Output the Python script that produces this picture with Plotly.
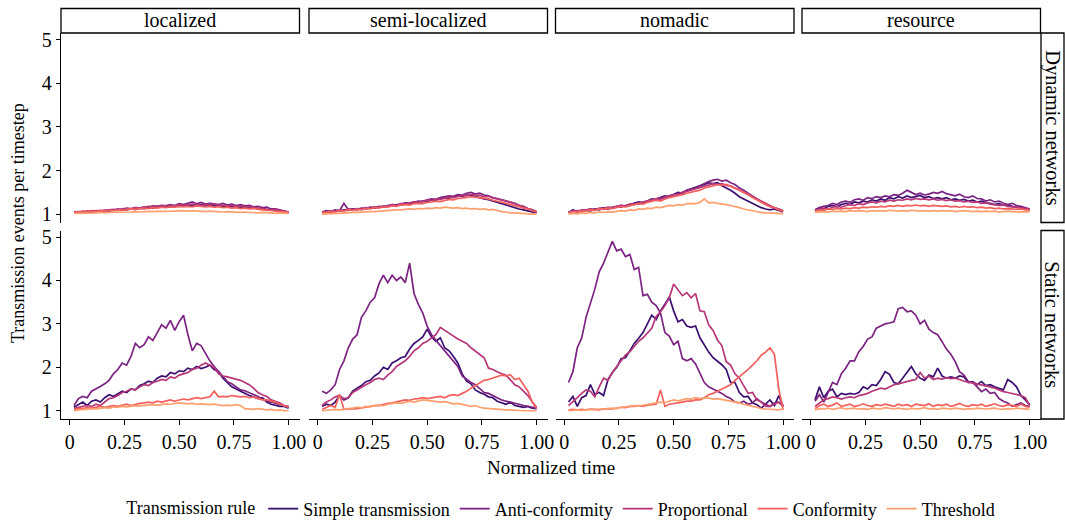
import plotly.graph_objects as go

# ---------------- data ----------------
TIME = [0.02, 0.04, 0.06, 0.08, 0.10, 0.12, 0.14, 0.16, 0.18, 0.20,
        0.22, 0.24, 0.26, 0.28, 0.30, 0.32, 0.34, 0.36, 0.38, 0.40,
        0.42, 0.44, 0.46, 0.48, 0.50, 0.52, 0.54, 0.56, 0.58, 0.60,
        0.62, 0.64, 0.66, 0.68, 0.70, 0.72, 0.74, 0.76, 0.78, 0.80,
        0.82, 0.84, 0.86, 0.88, 0.90, 0.92, 0.94, 0.96, 0.98, 1.00]

PANELS = ["localized", "semi-localized", "nomadic", "resource"]
NETWORKS = ["Dynamic networks", "Static networks"]
RULES = ["Simple transmission", "Anti-conformity", "Proportional", "Conformity", "Threshold"]
X_TICKS = [0, 0.25, 0.5, 0.75, 1.0]
X_TICK_LABELS = ["0", "0.25", "0.50", "0.75", "1.00"]
Y_TICKS = [1, 2, 3, 4, 5]

# ---- Dynamic networks ----
DYN_LOC_SIMPLE = [1.03,1.05,1.04,1.06,1.05,1.07,1.06,1.08,1.07,1.10,
                  1.09,1.11,1.10,1.12,1.11,1.14,1.13,1.15,1.14,1.17,
                  1.16,1.18,1.17,1.19,1.18,1.20,1.19,1.21,1.20,1.22,
                  1.20,1.21,1.19,1.20,1.18,1.19,1.17,1.18,1.15,1.16,
                  1.14,1.15,1.12,1.13,1.10,1.10,1.08,1.07,1.05,1.03]
DYN_LOC_ANTI = [1.05,1.06,1.05,1.07,1.06,1.08,1.07,1.09,1.10,1.09,
                1.12,1.10,1.13,1.12,1.15,1.14,1.17,1.16,1.19,1.18,
                1.20,1.19,1.22,1.20,1.24,1.22,1.25,1.28,1.24,1.27,
                1.23,1.25,1.24,1.22,1.25,1.21,1.23,1.20,1.22,1.19,
                1.20,1.17,1.18,1.15,1.16,1.12,1.12,1.10,1.08,1.05]
DYN_LOC_PROP = [1.06,1.05,1.07,1.06,1.08,1.07,1.09,1.08,1.10,1.11,
                1.10,1.12,1.14,1.13,1.15,1.14,1.16,1.18,1.17,1.19,
                1.18,1.20,1.21,1.19,1.22,1.20,1.21,1.23,1.22,1.20,
                1.22,1.21,1.23,1.20,1.21,1.19,1.20,1.18,1.19,1.16,
                1.17,1.15,1.14,1.13,1.12,1.10,1.11,1.08,1.07,1.05]
DYN_LOC_CONF = [1.04,1.05,1.05,1.06,1.07,1.06,1.08,1.07,1.09,1.08,
                1.10,1.09,1.11,1.12,1.11,1.13,1.14,1.13,1.15,1.14,
                1.16,1.15,1.17,1.16,1.18,1.17,1.18,1.17,1.19,1.18,
                1.17,1.18,1.16,1.17,1.15,1.16,1.14,1.15,1.13,1.14,
                1.12,1.13,1.11,1.10,1.09,1.08,1.08,1.06,1.05,1.04]
DYN_LOC_THRESH = [1.02,1.02,1.03,1.02,1.03,1.03,1.04,1.03,1.04,1.04,
                  1.05,1.04,1.05,1.05,1.06,1.05,1.06,1.06,1.07,1.06,
                  1.07,1.07,1.06,1.07,1.08,1.07,1.07,1.08,1.07,1.07,
                  1.06,1.07,1.06,1.06,1.05,1.06,1.05,1.05,1.04,1.05,
                  1.04,1.04,1.03,1.04,1.03,1.03,1.02,1.03,1.02,1.02]

DYN_SEMI_SIMPLE = [1.03,1.06,1.05,1.08,1.07,1.10,1.09,1.12,1.11,1.13,
                   1.12,1.15,1.14,1.17,1.16,1.19,1.20,1.22,1.21,1.25,
                   1.24,1.27,1.28,1.30,1.29,1.33,1.32,1.36,1.38,1.37,
                   1.40,1.42,1.41,1.44,1.43,1.40,1.38,1.35,1.33,1.30,
                   1.27,1.24,1.20,1.18,1.15,1.12,1.10,1.08,1.05,1.03]
DYN_SEMI_ANTI = [1.05,1.08,1.06,1.10,1.08,1.25,1.10,1.12,1.10,1.14,
                 1.13,1.16,1.15,1.18,1.17,1.20,1.22,1.21,1.24,1.26,
                 1.25,1.28,1.30,1.29,1.33,1.35,1.34,1.38,1.40,1.42,
                 1.41,1.45,1.44,1.48,1.50,1.46,1.48,1.44,1.42,1.38,
                 1.36,1.33,1.30,1.28,1.25,1.20,1.18,1.13,1.10,1.05]
DYN_SEMI_PROP = [1.04,1.05,1.08,1.06,1.10,1.08,1.12,1.10,1.13,1.12,
                 1.15,1.14,1.17,1.16,1.19,1.18,1.22,1.20,1.24,1.23,
                 1.26,1.28,1.27,1.30,1.32,1.31,1.35,1.34,1.37,1.39,
                 1.38,1.41,1.43,1.42,1.45,1.44,1.43,1.40,1.41,1.37,
                 1.35,1.32,1.30,1.27,1.24,1.20,1.17,1.13,1.10,1.06]
DYN_SEMI_CONF = [1.03,1.04,1.06,1.05,1.08,1.07,1.10,1.09,1.11,1.10,
                 1.13,1.12,1.15,1.14,1.17,1.16,1.19,1.18,1.21,1.22,
                 1.21,1.24,1.25,1.24,1.27,1.28,1.30,1.29,1.32,1.34,
                 1.33,1.36,1.37,1.38,1.40,1.39,1.38,1.36,1.35,1.32,
                 1.30,1.28,1.25,1.22,1.20,1.17,1.14,1.12,1.08,1.05]
DYN_SEMI_THRESH = [1.00,1.01,1.01,1.02,1.02,1.03,1.03,1.04,1.04,1.05,
                   1.05,1.06,1.06,1.07,1.08,1.08,1.09,1.10,1.10,1.11,
                   1.12,1.11,1.13,1.12,1.14,1.13,1.15,1.14,1.16,1.15,
                   1.14,1.15,1.13,1.14,1.12,1.13,1.11,1.12,1.10,1.11,
                   1.08,1.06,1.05,1.03,1.03,1.02,1.01,1.01,1.00,1.00]

DYN_NOM_SIMPLE = [1.03,1.10,1.05,1.08,1.10,1.07,1.12,1.10,1.14,1.12,
                  1.15,1.17,1.20,1.18,1.22,1.25,1.28,1.26,1.30,1.35,
                  1.32,1.38,1.42,1.40,1.45,1.50,1.48,1.55,1.58,1.62,
                  1.65,1.68,1.72,1.70,1.72,1.65,1.60,1.55,1.48,1.40,
                  1.35,1.30,1.25,1.20,1.15,1.12,1.10,1.12,1.08,1.05]
DYN_NOM_ANTI = [1.05,1.08,1.06,1.10,1.08,1.12,1.10,1.13,1.15,1.12,
                1.16,1.18,1.16,1.20,1.22,1.25,1.23,1.28,1.30,1.33,
                1.35,1.38,1.36,1.42,1.45,1.48,1.50,1.55,1.58,1.60,
                1.65,1.70,1.75,1.78,1.80,1.76,1.78,1.72,1.68,1.60,
                1.55,1.48,1.42,1.35,1.28,1.22,1.18,1.15,1.12,1.08]
DYN_NOM_PROP = [1.05,1.06,1.08,1.07,1.10,1.12,1.10,1.14,1.13,1.16,
                1.15,1.18,1.20,1.19,1.23,1.22,1.26,1.28,1.30,1.32,
                1.35,1.34,1.40,1.42,1.45,1.44,1.50,1.52,1.55,1.58,
                1.62,1.65,1.68,1.70,1.68,1.70,1.66,1.65,1.60,1.55,
                1.50,1.45,1.40,1.35,1.30,1.25,1.20,1.15,1.12,1.08]
DYN_NOM_CONF = [1.04,1.06,1.05,1.08,1.07,1.10,1.09,1.12,1.11,1.14,
                1.13,1.16,1.18,1.17,1.20,1.22,1.24,1.23,1.27,1.30,
                1.32,1.30,1.35,1.38,1.40,1.42,1.45,1.48,1.50,1.52,
                1.55,1.60,1.62,1.65,1.68,1.66,1.68,1.64,1.60,1.55,
                1.50,1.45,1.38,1.32,1.28,1.22,1.18,1.15,1.10,1.06]
DYN_NOM_THRESH = [1.00,1.02,1.01,1.03,1.02,1.04,1.03,1.05,1.04,1.06,
                  1.05,1.07,1.08,1.07,1.10,1.09,1.12,1.11,1.14,1.13,
                  1.16,1.15,1.18,1.20,1.19,1.22,1.21,1.24,1.25,1.24,
                  1.27,1.35,1.26,1.27,1.25,1.24,1.22,1.20,1.18,1.15,
                  1.12,1.10,1.07,1.05,1.04,1.03,1.03,1.02,1.02,1.01]

DYN_RES_SIMPLE = [1.08,1.15,1.12,1.18,1.20,1.17,1.22,1.25,1.22,1.28,
                  1.26,1.30,1.28,1.33,1.30,1.35,1.32,1.38,1.35,1.40,
                  1.37,1.42,1.38,1.40,1.43,1.38,1.40,1.36,1.38,1.35,
                  1.38,1.33,1.35,1.32,1.34,1.30,1.32,1.28,1.30,1.26,
                  1.25,1.22,1.24,1.20,1.22,1.18,1.16,1.15,1.12,1.10]
DYN_RES_ANTI = [1.10,1.15,1.18,1.20,1.25,1.22,1.28,1.30,1.27,1.33,
                1.35,1.32,1.38,1.36,1.40,1.38,1.42,1.40,1.45,1.43,
                1.48,1.55,1.50,1.45,1.48,1.44,1.46,1.50,1.48,1.52,
                1.47,1.45,1.42,1.46,1.40,1.38,1.42,1.36,1.35,1.30,
                1.33,1.28,1.30,1.25,1.22,1.25,1.20,1.18,1.15,1.12]
DYN_RES_PROP = [1.08,1.10,1.14,1.12,1.16,1.18,1.16,1.20,1.22,1.20,
                1.24,1.22,1.26,1.28,1.26,1.30,1.28,1.32,1.30,1.33,
                1.32,1.35,1.33,1.36,1.34,1.35,1.33,1.35,1.32,1.34,
                1.31,1.33,1.30,1.31,1.28,1.30,1.27,1.28,1.25,1.26,
                1.23,1.22,1.20,1.21,1.18,1.17,1.16,1.14,1.13,1.12]
DYN_RES_CONF = [1.07,1.10,1.09,1.12,1.11,1.13,1.12,1.14,1.13,1.15,
                1.14,1.16,1.15,1.17,1.16,1.18,1.17,1.19,1.18,1.20,
                1.18,1.20,1.19,1.21,1.19,1.20,1.18,1.20,1.19,1.18,
                1.19,1.17,1.18,1.16,1.18,1.16,1.17,1.15,1.16,1.14,
                1.15,1.13,1.14,1.12,1.13,1.12,1.11,1.12,1.10,1.10]
DYN_RES_THRESH = [1.04,1.05,1.06,1.05,1.07,1.06,1.07,1.06,1.08,1.07,
                  1.08,1.07,1.06,1.08,1.07,1.08,1.07,1.09,1.08,1.07,
                  1.08,1.07,1.09,1.08,1.07,1.08,1.07,1.08,1.07,1.08,
                  1.07,1.08,1.06,1.07,1.08,1.07,1.06,1.07,1.06,1.07,
                  1.06,1.07,1.05,1.06,1.07,1.06,1.05,1.06,1.05,1.05]

# ---- Static networks ----
STA_LOC_SIMPLE = [1.08,1.15,1.20,1.12,1.22,1.25,1.20,1.30,1.37,1.33,
                  1.40,1.45,1.42,1.50,1.48,1.58,1.62,1.68,1.65,1.75,
                  1.80,1.78,1.88,1.85,1.92,1.90,1.98,1.95,2.02,1.97,
                  2.00,2.05,1.95,1.90,1.75,1.65,1.55,1.50,1.45,1.40,
                  1.35,1.32,1.28,1.30,1.20,1.15,1.12,1.10,1.10,1.06]
STA_LOC_ANTI = [1.12,1.28,1.33,1.30,1.45,1.50,1.56,1.62,1.70,1.85,
                1.95,2.10,2.05,2.25,2.55,2.45,2.52,2.70,2.62,2.80,
                2.98,2.90,3.08,2.85,3.05,3.20,2.75,2.38,2.55,2.50,
                2.33,2.15,2.02,1.90,1.80,1.67,1.62,1.55,1.48,1.46,
                1.42,1.37,1.33,1.27,1.22,1.20,1.17,1.14,1.12,1.08]
STA_LOC_PROP = [1.05,1.08,1.10,1.12,1.10,1.15,1.12,1.20,1.28,1.30,
                1.35,1.42,1.45,1.50,1.48,1.55,1.60,1.58,1.65,1.68,
                1.72,1.70,1.78,1.75,1.82,1.85,1.88,1.95,1.98,2.05,
                2.10,2.05,2.00,1.85,1.80,1.78,1.75,1.72,1.70,1.65,
                1.60,1.52,1.42,1.37,1.33,1.25,1.22,1.18,1.12,1.10]
STA_LOC_CONF = [1.03,1.05,1.05,1.07,1.06,1.08,1.10,1.08,1.10,1.12,
                1.10,1.13,1.15,1.12,1.15,1.17,1.18,1.20,1.18,1.22,
                1.20,1.22,1.25,1.22,1.25,1.27,1.25,1.28,1.30,1.28,
                1.30,1.32,1.45,1.32,1.33,1.32,1.35,1.33,1.32,1.33,
                1.30,1.32,1.28,1.25,1.25,1.22,1.20,1.15,1.12,1.08]
STA_LOC_THRESH = [1.00,1.02,1.03,1.03,1.05,1.04,1.06,1.07,1.06,1.08,
                  1.08,1.10,1.09,1.10,1.12,1.11,1.12,1.13,1.14,1.13,
                  1.15,1.16,1.15,1.17,1.18,1.17,1.16,1.17,1.15,1.16,
                  1.15,1.14,1.15,1.13,1.12,1.13,1.12,1.14,1.12,1.05,
                  1.04,1.03,1.05,1.03,1.02,1.03,1.01,1.02,1.00,1.00]

STA_SEMI_SIMPLE = [1.10,1.15,1.12,1.20,1.35,1.25,1.30,1.45,1.52,1.58,
                   1.67,1.70,1.80,1.87,2.00,1.95,2.10,2.15,2.22,2.25,
                   2.42,2.55,2.62,2.70,2.88,2.70,2.60,2.68,2.45,2.38,
                   2.25,2.10,1.85,1.68,1.62,1.48,1.42,1.38,1.32,1.30,
                   1.22,1.18,1.15,1.20,1.12,1.10,1.08,1.10,1.06,1.05]
STA_SEMI_ANTI = [1.45,1.40,1.48,1.60,1.95,2.15,2.45,2.65,2.75,3.15,
                 3.30,3.50,3.60,3.92,4.12,3.95,4.12,4.00,4.08,3.95,
                 4.40,3.70,3.45,3.25,2.95,2.75,2.62,2.50,2.38,2.25,
                 2.15,2.02,1.80,1.72,1.65,1.60,1.50,1.42,1.40,1.35,
                 1.30,1.25,1.22,1.20,1.18,1.15,1.12,1.10,1.08,1.06]
STA_SEMI_PROP = [1.12,1.20,1.25,1.32,1.35,1.28,1.30,1.42,1.48,1.55,
                 1.60,1.65,1.72,1.75,1.72,1.82,1.90,2.02,2.08,2.15,
                 2.25,2.38,2.45,2.55,2.60,2.68,2.75,2.92,2.85,2.78,
                 2.70,2.65,2.60,2.55,2.45,2.38,2.30,2.22,1.98,1.95,
                 1.90,1.85,1.82,1.72,1.60,1.55,1.45,1.35,1.20,1.08]
STA_SEMI_CONF = [1.03,1.08,1.12,1.08,1.38,1.03,1.03,1.04,1.05,1.06,
                 1.08,1.10,1.12,1.12,1.15,1.17,1.18,1.20,1.22,1.25,
                 1.24,1.27,1.28,1.30,1.28,1.30,1.32,1.33,1.30,1.35,
                 1.37,1.35,1.40,1.45,1.52,1.58,1.65,1.70,1.72,1.75,
                 1.78,1.82,1.80,1.83,1.72,1.75,1.60,1.45,1.20,1.05]
STA_SEMI_THRESH = [1.00,1.01,1.02,1.03,1.02,1.04,1.05,1.06,1.08,1.07,
                   1.10,1.09,1.12,1.13,1.12,1.15,1.16,1.18,1.17,1.20,
                   1.22,1.20,1.23,1.25,1.24,1.23,1.22,1.20,1.21,1.18,
                   1.16,1.17,1.15,1.12,1.10,1.12,1.08,1.06,1.05,1.05,
                   1.03,1.03,1.02,1.02,1.01,1.00,1.00,1.00,1.00,1.00]

STA_NOM_SIMPLE = [1.20,1.33,1.10,1.30,1.35,1.60,1.38,1.42,1.35,1.72,
                  1.88,2.00,2.20,2.22,2.38,2.55,2.67,2.80,3.00,3.20,
                  3.10,3.30,3.45,3.62,3.30,3.05,3.10,2.95,2.92,2.95,
                  2.68,2.50,2.35,2.22,2.15,2.06,1.95,1.65,1.65,1.42,
                  1.32,1.33,1.18,1.14,1.06,1.15,1.25,1.12,1.35,1.10]
STA_NOM_ANTI = [1.65,1.90,2.45,2.67,3.15,3.45,3.80,4.20,4.40,4.65,
                4.90,4.68,4.72,4.55,4.60,4.25,4.30,3.65,3.68,3.50,
                3.42,3.25,2.80,2.72,2.52,2.60,2.20,2.15,2.20,2.08,
                1.85,1.65,1.55,1.50,1.44,1.40,1.33,1.28,1.20,1.18,
                1.22,1.15,1.18,1.28,1.20,1.15,1.10,1.18,1.20,1.10]
STA_NOM_PROP = [1.12,1.20,1.30,1.40,1.48,1.45,1.32,1.55,1.75,1.70,
                1.88,2.02,2.15,2.28,2.36,2.48,2.60,2.68,2.78,2.90,
                3.17,3.28,3.42,3.60,3.92,3.78,3.65,3.72,3.60,3.70,
                3.30,3.28,2.98,2.85,2.63,2.50,2.13,2.05,1.85,1.75,
                1.58,1.40,1.42,1.25,1.20,1.10,1.10,1.15,1.20,1.10]
STA_NOM_CONF = [1.02,1.03,1.02,1.03,1.02,1.04,1.03,1.02,1.04,1.05,
                1.04,1.06,1.08,1.07,1.10,1.10,1.12,1.10,1.13,1.14,
                1.15,1.48,1.10,1.15,1.16,1.18,1.20,1.22,1.22,1.25,
                1.25,1.30,1.37,1.40,1.45,1.50,1.55,1.60,1.70,1.78,
                1.85,1.95,2.05,2.15,2.28,2.35,2.45,2.30,1.50,1.02]
STA_NOM_THRESH = [1.00,1.01,1.02,1.01,1.02,1.03,1.02,1.04,1.03,1.05,
                  1.06,1.05,1.08,1.09,1.10,1.12,1.11,1.13,1.15,1.17,
                  1.18,1.20,1.19,1.22,1.25,1.23,1.26,1.28,1.27,1.30,
                  1.28,1.30,1.29,1.27,1.28,1.26,1.25,1.22,1.20,1.18,
                  1.15,1.12,1.10,1.08,1.05,1.04,1.03,1.03,1.02,1.05]

STA_RES_SIMPLE = [1.25,1.55,1.30,1.45,1.50,1.32,1.40,1.37,1.40,1.38,
                  1.42,1.55,1.50,1.60,1.58,1.72,1.90,1.84,1.65,1.62,
                  1.75,1.88,2.02,1.85,1.75,1.70,1.82,1.78,1.98,1.80,
                  1.75,1.78,1.75,1.80,1.78,1.65,1.67,1.60,1.67,1.58,
                  1.60,1.55,1.52,1.48,1.72,1.65,1.55,1.35,1.25,1.14]
STA_RES_ANTI = [1.22,1.37,1.20,1.42,1.65,1.60,1.85,1.98,2.15,2.15,
                2.36,2.48,2.65,2.70,2.90,2.95,3.00,3.02,3.05,3.35,
                3.38,3.28,3.30,3.20,3.00,3.08,2.88,2.80,2.75,2.59,
                2.42,2.30,2.13,1.90,1.82,1.67,1.65,1.55,1.44,1.50,
                1.40,1.42,1.28,1.22,1.18,1.10,1.14,1.18,1.12,1.10]
STA_RES_PROP = [1.10,1.18,1.25,1.28,1.32,1.30,1.27,1.30,1.32,1.30,
                1.35,1.37,1.40,1.45,1.48,1.52,1.50,1.55,1.60,1.62,
                1.65,1.68,1.70,1.72,1.88,1.75,1.80,1.72,1.75,1.73,
                1.76,1.74,1.75,1.72,1.68,1.66,1.64,1.62,1.60,1.58,
                1.55,1.52,1.48,1.44,1.42,1.40,1.38,1.35,1.30,1.12]
STA_RES_CONF = [1.05,1.12,1.15,1.10,1.13,1.18,1.10,1.12,1.15,1.10,
                1.12,1.16,1.12,1.10,1.14,1.12,1.15,1.13,1.10,1.15,
                1.12,1.14,1.10,1.15,1.13,1.12,1.16,1.10,1.14,1.12,
                1.15,1.10,1.13,1.17,1.12,1.10,1.14,1.12,1.15,1.10,
                1.13,1.16,1.12,1.10,1.14,1.12,1.10,1.15,1.10,1.08]
STA_RES_THRESH = [1.02,1.05,1.04,1.06,1.03,1.05,1.07,1.04,1.05,1.06,
                  1.04,1.05,1.03,1.06,1.05,1.04,1.07,1.05,1.04,1.06,
                  1.05,1.03,1.06,1.04,1.05,1.07,1.04,1.05,1.03,1.06,
                  1.05,1.04,1.06,1.05,1.03,1.05,1.04,1.06,1.05,1.04,
                  1.05,1.06,1.04,1.03,1.05,1.04,1.06,1.05,1.04,1.03]

SERIES = {
    (0, 0): [DYN_LOC_SIMPLE, DYN_LOC_ANTI, DYN_LOC_PROP, DYN_LOC_CONF, DYN_LOC_THRESH],
    (0, 1): [DYN_SEMI_SIMPLE, DYN_SEMI_ANTI, DYN_SEMI_PROP, DYN_SEMI_CONF, DYN_SEMI_THRESH],
    (0, 2): [DYN_NOM_SIMPLE, DYN_NOM_ANTI, DYN_NOM_PROP, DYN_NOM_CONF, DYN_NOM_THRESH],
    (0, 3): [DYN_RES_SIMPLE, DYN_RES_ANTI, DYN_RES_PROP, DYN_RES_CONF, DYN_RES_THRESH],
    (1, 0): [STA_LOC_SIMPLE, STA_LOC_ANTI, STA_LOC_PROP, STA_LOC_CONF, STA_LOC_THRESH],
    (1, 1): [STA_SEMI_SIMPLE, STA_SEMI_ANTI, STA_SEMI_PROP, STA_SEMI_CONF, STA_SEMI_THRESH],
    (1, 2): [STA_NOM_SIMPLE, STA_NOM_ANTI, STA_NOM_PROP, STA_NOM_CONF, STA_NOM_THRESH],
    (1, 3): [STA_RES_SIMPLE, STA_RES_ANTI, STA_RES_PROP, STA_RES_CONF, STA_RES_THRESH],
}

# ---------------- style / layout ----------------
COLORS = ["#3B0F70", "#7B2382", "#B73779", "#F1605D", "#FE9F6D"]
FONT = "Liberation Serif"
W, H = 1065, 521
COL_PX = [(61, 299.5), (309, 547.5), (555.5, 794), (802, 1040.5)]
ROW_PX = [(33, 222.5), (230.5, 419)]
X_RANGE = [-0.0395, 1.0495]
Y_RANGE = [0.81, 5.15]


def px_x(v):
    return v / W


def px_y(v):
    return 1 - v / H


fig = go.Figure()
layout = dict(
    template="none",
    width=W, height=H,
    margin=dict(l=0, r=0, t=0, b=0, pad=0, autoexpand=False),
    paper_bgcolor="white", plot_bgcolor="white",
    font=dict(family=FONT, color="black", size=18),
    showlegend=True,
)

shapes = []
annotations = []

for r in range(2):
    for c in range(4):
        k = r * 4 + c + 1
        xname = "x" if k == 1 else f"x{k}"
        yname = "y" if k == 1 else f"y{k}"
        xkey = "xaxis" if k == 1 else f"xaxis{k}"
        ykey = "yaxis" if k == 1 else f"yaxis{k}"
        x0, x1 = COL_PX[c]
        y0, y1 = ROW_PX[r]
        xa = dict(domain=[px_x(x0), px_x(x1)], range=X_RANGE, anchor=yname,
                  showgrid=False, zeroline=False, fixedrange=True, automargin=False)
        if r == 1:
            xa.update(showline=True, linecolor="black", linewidth=1.3,
                      ticks="outside", ticklen=5, tickwidth=1.2, tickcolor="black",
                      tickvals=X_TICKS, ticktext=X_TICK_LABELS,
                      tickfont=dict(family=FONT, size=20, color="black"))
        else:
            xa.update(showline=False, showticklabels=False, ticks="")
        ya = dict(domain=[px_y(y1), px_y(y0)], range=Y_RANGE, anchor=xname,
                  showgrid=False, zeroline=False, fixedrange=True, automargin=False)
        if c == 0:
            ya.update(showline=True, linecolor="black", linewidth=1.3,
                      ticks="outside", ticklen=4, tickwidth=1.2, tickcolor="black",
                      tickvals=Y_TICKS,
                      tickfont=dict(family=FONT, size=20, color="black"))
        else:
            ya.update(showline=False, showticklabels=False, ticks="")
        layout[xkey] = xa
        layout[ykey] = ya

        for i, rule in enumerate(RULES):
            fig.add_trace(go.Scatter(
                x=TIME, y=SERIES[(r, c)][i], mode="lines",
                line=dict(color=COLORS[i], width=1.7),
                name=rule, legendgroup=rule,
                showlegend=(k == 1),
                xaxis=xname, yaxis=yname, hoverinfo="skip",
            ))

# top strips
for c, label in enumerate(PANELS):
    x0, x1 = COL_PX[c]
    shapes.append(dict(type="rect", xref="paper", yref="paper",
                       x0=px_x(x0), x1=px_x(x1), y0=px_y(33), y1=px_y(8.5),
                       line=dict(color="black", width=1.3), fillcolor="white"))
    annotations.append(dict(text=label, xref="paper", yref="paper",
                            x=px_x((x0 + x1) / 2), y=px_y(20.5), showarrow=False,
                            xanchor="center", yanchor="middle",
                            font=dict(family=FONT, size=20, color="black")))

# right strips
for r, label in enumerate(NETWORKS):
    y0, y1 = ROW_PX[r]
    shapes.append(dict(type="rect", xref="paper", yref="paper",
                       x0=px_x(1041), x1=px_x(1064), y0=px_y(y1), y1=px_y(y0),
                       line=dict(color="black", width=1.3), fillcolor="white"))
    annotations.append(dict(text=label, xref="paper", yref="paper",
                            x=px_x(1052.5), y=px_y((y0 + y1) / 2), showarrow=False,
                            textangle=90, xanchor="center", yanchor="middle",
                            font=dict(family=FONT, size=20.5, color="black")))

# axis titles
annotations.append(dict(text="Normalized time", xref="paper", yref="paper",
                        x=px_x(550.5), y=px_y(467), showarrow=False,
                        xanchor="center", yanchor="middle",
                        font=dict(family=FONT, size=19, color="black")))
annotations.append(dict(text="Transmission events per timestep", xref="paper", yref="paper",
                        x=px_x(18), y=px_y(223), showarrow=False, textangle=-90,
                        xanchor="center", yanchor="middle",
                        font=dict(family=FONT, size=18, color="black")))

layout["shapes"] = shapes
layout["annotations"] = annotations
layout["legend"] = dict(
    orientation="h", x=0.528, xanchor="center", y=px_y(509), yanchor="middle",
    title=dict(text="Transmission rule", font=dict(family=FONT, size=18, color="black")),
    font=dict(family=FONT, size=18, color="black"),
    itemwidth=30, tracegroupgap=0, bgcolor="rgba(0,0,0,0)",
)

fig.update_layout(**layout)
fig.write_html(
    "out.html",
    config={"displayModeBar": False},
    post_script="document.body.style.margin='0px';document.body.style.padding='0px';"
                "document.documentElement.style.margin='0px';document.body.style.overflow='hidden';",
)
